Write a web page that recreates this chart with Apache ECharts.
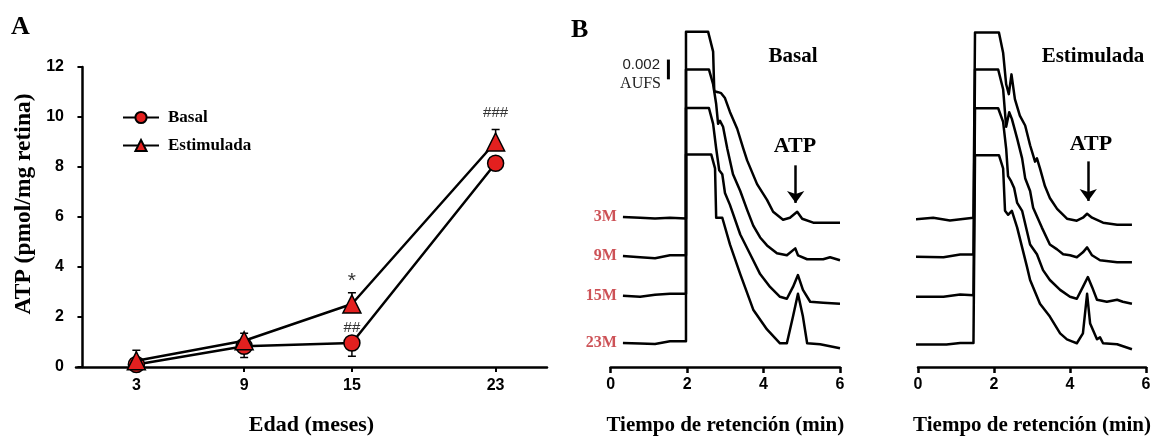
<!DOCTYPE html>
<html>
<head>
<meta charset="utf-8">
<script src="https://cdn.jsdelivr.net/npm/echarts@6/dist/echarts.min.js"></script>
<style>
html,body{margin:0;padding:0;background:#fff;}
#chart{width:1158px;height:441px;}
</style>
</head>
<body>
<div id="chart"></div>
<script>
// ---------- Panel A data ----------
const ageMonths = [3, 9, 15, 23];
const basalMean = [0.10, 0.83, 0.96, 8.15];
const basalErr  = [0.10, 0.45, 0.53, 0.20];
const stimMean  = [0.25, 1.05, 2.52, 9.00];
const stimErr   = [0.42, 0.30, 0.45, 0.50];
const basalSig  = ['', '', '##', ''];
const stimSig   = ['', '', '*', '###'];
const yTicksA   = [0, 2, 4, 6, 8, 10, 12];

// ---------- Panel B data (time in min, signal in mAU incl. display offset) ----------
const traceLabels = ['3M', '9M', '15M', '23M'];
const basal3M = [[0.32,15.17],[0.77,15.10],[1.16,15.03],[1.55,15.10],[1.97,15.03],[1.97,33.90],[2.55,33.90],[2.68,31.90],[2.71,27.90],[2.81,27.80],[2.89,27.70],[2.99,27.20],[3.12,25.80],[3.31,24.10],[3.47,22.10],[3.57,20.90],[3.83,18.50],[4.09,16.90],[4.25,15.70],[4.51,14.90],[4.69,15.10],[4.88,15.70],[5.01,15.00],[5.30,14.60],[6.00,14.60]];
const basal9M = [[0.32,11.23],[0.77,11.10],[1.16,11.00],[1.55,11.30],[1.97,11.30],[1.97,30.10],[2.57,30.10],[2.68,28.60],[2.76,26.60],[2.81,24.60],[2.86,24.90],[2.94,24.30],[3.05,22.10],[3.20,19.50],[3.39,17.80],[3.57,15.90],[3.73,14.30],[3.91,13.10],[4.09,12.30],[4.35,11.50],[4.61,11.30],[4.83,12.00],[4.90,11.30],[5.14,10.90],[5.56,10.90],[5.74,11.10],[6.00,10.80]];
const basal15M = [[0.32,7.20],[0.77,7.10],[1.16,7.30],[1.55,7.40],[1.97,7.40],[1.97,26.20],[2.57,26.20],[2.68,24.60],[2.76,22.10],[2.84,19.90],[2.92,19.50],[2.99,17.60],[3.12,16.40],[3.39,13.40],[3.65,11.40],[3.91,9.40],[4.17,8.10],[4.43,7.10],[4.61,6.90],[4.77,8.10],[4.90,9.30],[5.03,7.80],[5.22,6.60],[5.56,6.50],[6.00,6.40]];
const basal23M = [[0.32,2.43],[0.77,2.37],[1.16,2.33],[1.55,2.60],[1.97,2.60],[1.97,21.50],[2.63,21.50],[2.73,20.10],[2.76,15.10],[2.92,15.10],[3.12,12.40],[3.39,9.40],[3.73,5.80],[4.09,3.80],[4.43,2.40],[4.61,2.40],[4.77,5.10],[4.90,7.40],[5.03,5.10],[5.14,2.40],[5.48,2.30],[6.00,1.90]];
const stim3M = [[-0.13,14.93],[0.40,15.10],[0.84,14.83],[1.46,15.10],[1.50,15.10],[1.50,33.83],[2.13,33.83],[2.24,31.80],[2.32,28.60],[2.39,27.60],[2.46,29.60],[2.55,27.10],[2.68,25.43],[2.82,24.43],[2.95,22.43],[3.08,20.77],[3.13,21.10],[3.21,20.10],[3.34,18.30],[3.47,17.10],[3.66,16.00],[3.92,15.00],[4.18,14.80],[4.34,15.10],[4.45,15.50],[4.58,15.10],[4.87,14.60],[5.24,14.40],[5.63,14.40]];
const stim9M = [[-0.13,11.17],[0.67,11.10],[1.11,11.37],[1.46,11.37],[1.50,11.37],[1.50,30.10],[2.11,30.10],[2.24,28.10],[2.32,24.30],[2.40,25.77],[2.47,25.10],[2.61,23.10],[2.74,21.10],[2.82,19.10],[2.95,17.80],[3.03,16.10],[3.26,14.10],[3.47,12.40],[3.66,11.90],[3.82,11.40],[4.00,11.30],[4.18,11.10],[4.34,11.60],[4.45,12.10],[4.58,11.30],[4.79,10.80],[5.24,10.60],[5.63,10.60]];
const stim15M = [[-0.13,7.10],[0.67,7.10],[1.11,7.33],[1.46,7.27],[1.50,7.27],[1.50,26.17],[2.11,26.17],[2.24,24.80],[2.32,22.10],[2.37,19.30],[2.45,18.80],[2.53,18.10],[2.61,16.60],[2.74,15.80],[2.95,12.40],[3.13,11.40],[3.29,9.80],[3.47,8.80],[3.74,7.80],[4.00,7.10],[4.18,6.90],[4.34,8.10],[4.47,9.10],[4.58,8.10],[4.71,6.80],[4.97,6.60],[5.24,6.80],[5.39,6.60],[5.63,6.40]];
const stim23M = [[-0.13,2.27],[0.75,2.27],[1.11,2.43],[1.46,2.43],[1.50,2.43],[1.50,21.43],[2.13,21.43],[2.24,20.10],[2.29,15.80],[2.37,15.40],[2.47,15.80],[2.61,14.10],[2.74,12.10],[2.87,10.10],[2.95,8.80],[3.21,6.40],[3.47,5.10],[3.74,3.40],[3.92,2.80],[4.05,2.60],[4.18,2.40],[4.34,3.40],[4.45,7.40],[4.53,4.40],[4.71,2.80],[4.79,3.00],[4.87,2.40],[5.24,2.30],[5.63,1.80]];
const timeTicks = [0, 2, 4, 6];
const scaleBar = [[1.51, 29.1], [1.51, 31.1]];          // 0.002 AUFS = 2 mAU
const atpArrowBasal = [[4.84, 20.4], [4.84, 16.6]];
const atpArrowStim  = [[4.48, 20.8], [4.48, 16.8]];

const SERIF = "'Liberation Serif','Times New Roman',serif";
const SANS = "'Liberation Sans',Arial,sans-serif";
const RED = '#e3201f';
const LABEL_RED = '#c1272d';
const LW = 2.5;

const chart = echarts.init(document.getElementById('chart'), null, {renderer: 'canvas'});

function errorBarSeries(name, means, errs, dir) {
  return {
    name: name + '_err', type: 'custom', xAxisIndex: 0, yAxisIndex: 0, z: 1, silent: true,
    data: means.map((m, i) => [ageMonths[i], m, errs[i], dir]),
    renderItem: function (params, api) {
      const x = api.value(0), y = api.value(1), e = api.value(2), d = api.value(3);
      const p0 = api.coord([x, y]);
      const p1 = api.coord([x, y + d * e]);
      const st = {stroke: '#000', lineWidth: 1.5};
      return {type: 'group', children: [
        {type: 'line', shape: {x1: p0[0], y1: p0[1], x2: p1[0], y2: p1[1]}, style: st},
        {type: 'line', shape: {x1: p1[0] - 4, y1: p1[1], x2: p1[0] + 4, y2: p1[1]}, style: st}
      ]};
    }
  };
}

const sigStyle = {'*': {d: 3, fs: 21}, '##': {d: -1, fs: 15}, '###': {d: 12, fs: 15}};
function meanData(means, sigs) {
  return means.map((m, i) => {
    const item = {value: [ageMonths[i], m]};
    if (sigs[i]) {
      const s = sigStyle[sigs[i]];
      item.label = {show: true, formatter: sigs[i], position: 'top', distance: s.d,
        fontFamily: SANS, fontSize: s.fs, color: '#333'};
    }
    return item;
  });
}

function traceSeries(data, axisIdx, extra) {
  return Object.assign({
    type: 'line', xAxisIndex: axisIdx, yAxisIndex: axisIdx, data: data,
    showSymbol: false, symbol: 'none', clip: false, silent: true,
    lineStyle: {color: '#000', width: LW, join: 'round'}, z: 3
  }, extra || {});
}

function arrowMark(coords) {
  return {
    silent: true, symbol: ['none', 'arrow'], symbolSize: [13, 12],
    lineStyle: {color: '#000', width: 2.5, type: 'solid'},
    label: {show: false},
    data: [[{coord: coords[0]}, {coord: coords[1]}]]
  };
}

const basalTraces = [basal3M, basal9M, basal15M, basal23M];
const stimTraces = [stim3M, stim9M, stim15M, stim23M];

const timeAxis = (gi) => ({
  gridIndex: gi, type: 'value', min: timeTicks[0], max: timeTicks[timeTicks.length - 1], interval: 2,
  axisLine: {onZero: false, lineStyle: {color: '#000', width: 2.5}},
  axisTick: {length: 6, lineStyle: {color: '#000', width: 2.5}},
  axisLabel: {fontFamily: SANS, fontWeight: 'bold', fontSize: 16, color: '#000', margin: 10},
  splitLine: {show: false},
  name: 'Tiempo de retención (min)', nameLocation: 'middle', nameGap: 48,
  nameTextStyle: {fontFamily: SERIF, fontWeight: 'bold', fontSize: 21, color: '#000'}
});
const hiddenY = (gi) => ({gridIndex: gi, type: 'value', min: 0, max: 35, show: false});

const series = [
  errorBarSeries('Basal', basalMean, basalErr, -1),
  errorBarSeries('Estimulada', stimMean, stimErr, 1),
  {
    name: 'Basal', type: 'line', xAxisIndex: 0, yAxisIndex: 0, z: 3,
    data: meanData(basalMean, basalSig),
    symbol: 'circle', symbolSize: 16, showSymbol: true,
    lineStyle: {color: '#000', width: LW},
    itemStyle: {color: RED, borderColor: '#000', borderWidth: 1.5}
  },
  {
    name: 'Estimulada', type: 'line', xAxisIndex: 0, yAxisIndex: 0, z: 4,
    data: meanData(stimMean, stimSig),
    symbol: 'triangle', symbolSize: 18, showSymbol: true,
    lineStyle: {color: '#000', width: LW},
    itemStyle: {color: RED, borderColor: '#000', borderWidth: 1.5}
  }
];

basalTraces.forEach((d, i) => {
  series.push(traceSeries(d, 1, i === 0 ? {markLine: arrowMark(atpArrowBasal)} : {}));
});
stimTraces.forEach((d, i) => {
  series.push(traceSeries(d, 2, i === 0 ? {markLine: arrowMark(atpArrowStim)} : {}));
});
// age labels at the start of each basal trace
series.push({
  type: 'scatter', xAxisIndex: 1, yAxisIndex: 1, silent: true, symbolSize: 0.1,
  itemStyle: {color: 'rgba(0,0,0,0)'},
  data: basalTraces.map((d, i) => ({value: d[0], name: traceLabels[i]})),
  label: {show: true, position: 'left', distance: 6, formatter: (p) => p.name,
    fontFamily: SERIF, fontWeight: 'bold', fontSize: 16, color: LABEL_RED}
});
// 0.002 AUFS scale bar
series.push(traceSeries(scaleBar, 1, {lineStyle: {color: '#000', width: 3}}));

const option = {
  animation: false,
  backgroundColor: '#fff',
  grid: [
    {left: 76, top: 67, width: 471, height: 304},
    {left: 610.7, top: 21, width: 229.3, height: 350},
    {left: 918, top: 21, width: 228, height: 350}
  ],
  xAxis: [
    {
      gridIndex: 0, type: 'value', min: -0.36, max: 25.86,
      axisLine: {onZero: false, lineStyle: {color: '#000', width: 2.5}},
      axisTick: {show: true, customValues: ageMonths, length: 5, lineStyle: {color: '#000', width: 2}},
      axisLabel: {customValues: ageMonths, fontFamily: SANS, fontWeight: 'bold', fontSize: 16, color: '#000', margin: 11},
      splitLine: {show: false},
      name: 'Edad (meses)', nameLocation: 'middle', nameGap: 47,
      nameTextStyle: {fontFamily: SERIF, fontWeight: 'bold', fontSize: 22, color: '#000'}
    },
    timeAxis(1), timeAxis(2)
  ],
  yAxis: [
    {
      gridIndex: 0, type: 'value', min: yTicksA[0], max: yTicksA[yTicksA.length - 1], interval: 2,
      axisLine: {show: true, lineStyle: {color: '#000', width: 2.5}},
      axisTick: {show: true, length: 5, lineStyle: {color: '#000', width: 2}},
      axisLabel: {fontFamily: SANS, fontWeight: 'bold', fontSize: 16, color: '#000', margin: 12},
      splitLine: {show: false},
      name: 'ATP (pmol/mg retina)', nameLocation: 'middle', nameGap: 40,
      nameTextStyle: {fontFamily: SERIF, fontWeight: 'bold', fontSize: 23.5, color: '#000', padding: [0, 0, 0, 26]}
    },
    hiddenY(1), hiddenY(2)
  ],
  legend: {
    data: ['Basal', 'Estimulada'], orient: 'vertical', left: 122, top: 109, padding: 0,
    itemWidth: 36, itemHeight: 14, itemGap: 11,
    textStyle: {fontFamily: SERIF, fontWeight: 'bold', fontSize: 17, color: '#000', padding: [0, 0, 0, 4]},
    selectedMode: false
  },
  graphic: [
    {type: 'text', left: 11, top: 14, style: {text: 'A', font: "bold 26px " + SERIF, fill: '#000'}},
    {type: 'text', left: 571, top: 17, style: {text: 'B', font: "bold 26px " + SERIF, fill: '#000'}},
    {type: 'text', x: 793, y: 57, style: {text: 'Basal', font: "bold 21px " + SERIF, fill: '#000', align: 'center', verticalAlign: 'middle'}},
    {type: 'text', x: 1093, y: 57, style: {text: 'Estimulada', font: "bold 21px " + SERIF, fill: '#000', align: 'center', verticalAlign: 'middle'}},
    {type: 'text', x: 795, y: 146, style: {text: 'ATP', font: "bold 22px " + SERIF, fill: '#000', align: 'center', verticalAlign: 'middle'}},
    {type: 'text', x: 1091, y: 144, style: {text: 'ATP', font: "bold 22px " + SERIF, fill: '#000', align: 'center', verticalAlign: 'middle'}},
    {type: 'text', x: 660, y: 65, style: {text: '0.002', font: "15px " + SANS, fill: '#222', align: 'right', verticalAlign: 'middle'}},
    {type: 'text', x: 661, y: 84, style: {text: 'AUFS', font: "16px " + SERIF, fill: '#222', align: 'right', verticalAlign: 'middle'}}
  ],
  series: series
};
chart.setOption(option);
</script>
</body>
</html>
